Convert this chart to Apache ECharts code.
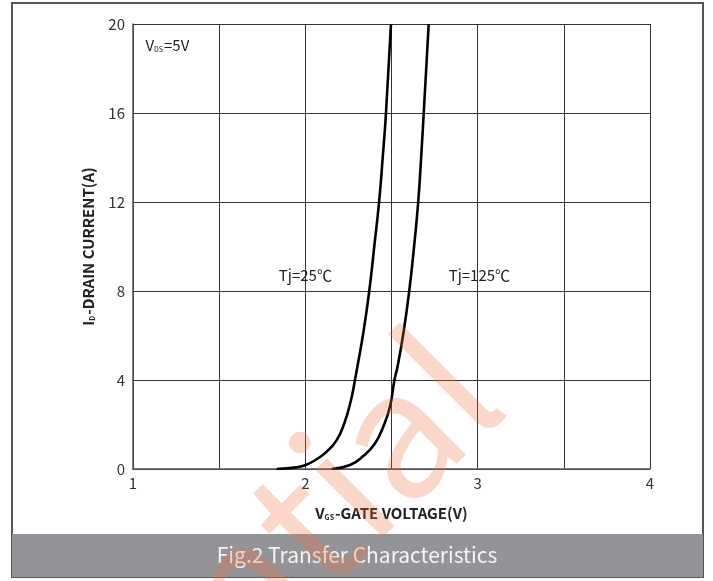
<!DOCTYPE html>
<html>
<head>
<meta charset="utf-8">
<script src="https://cdn.jsdelivr.net/npm/echarts@6/dist/echarts.min.js"></script>
<style>
html,body{margin:0;padding:0;background:#fff;}
#c{width:713px;height:581px;}
</style>
</head>
<body>
<div id="c"></div>
<script>
// Data
const vgs25 = [1.834, 1.950, 2.002, 2.066, 2.124, 2.182, 2.226, 2.265, 2.288, 2.302, 2.336, 2.371, 2.400, 2.428, 2.449, 2.468, 2.497];
const id25  = [0, 0.08, 0.18, 0.44, 0.78, 1.3, 2.05, 3.1, 4, 4.6, 6.1, 8, 10, 12, 14, 16, 20];
const vgs125 = [2.153, 2.259, 2.336, 2.404, 2.452, 2.491, 2.517, 2.535, 2.569, 2.603, 2.631, 2.655, 2.672, 2.687, 2.716];
const id125  = [0, 0.18, 0.58, 1.15, 1.9, 2.8, 4, 4.6, 6.1, 8, 10, 12, 14, 16, 20];
const xTickLabels = ['1', '2', '3', '4'];
const yTickLabels = ['0', '4', '8', '12', '16', '20'];
const seriesNames = ['Tj=25℃', 'Tj=125℃'];
const annotations = [
  {text: 'Tj=25℃', x: 2.0, y: 8.69},
  {text: 'Tj=125℃', x: 3.01, y: 8.69}
];
const condition = {main: 'V', sub: 'DS', rest: '=5V', x: 1.072, y: 19.05};
const titleText = 'Fig.2 Transfer Characteristics';
const watermarkText = 'Confidential';

const FONT = '"Noto Sans CJK SC", "Noto Sans", sans-serif';
const chart = echarts.init(document.getElementById('c'), null, {renderer: 'canvas'});

function pairs(xs, ys) { return xs.map((x, i) => [x, ys[i]]); }

const nameRich = {
  m: {fontFamily: FONT, fontSize: 15, fontWeight: 'bold', color: '#222'},
  s: {fontFamily: FONT, fontSize: 7, fontWeight: 'bold', color: '#222', verticalAlign: 'bottom', padding: [7, 1, 0, 0]}
};

const option = {
  backgroundColor: '#ffffff',
  animation: false,
  textStyle: {fontFamily: FONT},
  grid: {left: 133, right: 63, top: 24, bottom: 112, outerBoundsMode: 'none', containLabel: false},
  xAxis: {
    type: 'value', min: 1, max: 4, interval: 0.5,
    axisLine: {show: true, lineStyle: {color: '#555', width: 1.5}},
    axisTick: {show: false},
    splitLine: {show: true, lineStyle: {color: '#333', width: 1}},
    axisLabel: {
      fontFamily: FONT, fontSize: 15, color: '#333', margin: 7,
      formatter: v => xTickLabels.indexOf(String(v)) >= 0 ? String(v) : ''
    },
    name: '{m|V}{s|GS}{m|-GATE VOLTAGE(V)}',
    nameLocation: 'middle', nameGap: 37,
    nameTextStyle: {rich: nameRich}
  },
  yAxis: {
    type: 'value', min: 0, max: 20, interval: 4,
    axisLine: {show: true, lineStyle: {color: '#555', width: 1.5}},
    axisTick: {show: false},
    splitLine: {show: true, lineStyle: {color: '#333', width: 1}},
    axisLabel: {
      fontFamily: FONT, fontSize: 15, color: '#333', margin: 8,
      formatter: v => yTickLabels.indexOf(String(v)) >= 0 ? String(v) : ''
    },
    name: '{m|I}{s|D}{m|-DRAIN CURRENT(A)}',
    nameLocation: 'middle', nameGap: 37, nameRotate: 90,
    nameTextStyle: {rich: nameRich}
  },
  series: [
    {
      name: seriesNames[0], type: 'line', data: pairs(vgs25, id25),
      smooth: 0.5, showSymbol: false, symbol: 'none',
      lineStyle: {color: '#000', width: 2.6}, z: 5
    },
    {
      name: seriesNames[1], type: 'line', data: pairs(vgs125, id125),
      smooth: 0.5, showSymbol: false, symbol: 'none',
      lineStyle: {color: '#000', width: 2.6}, z: 5
    }
  ]
};
chart.setOption(option);

const graphics = [];
// outer frame
graphics.push({type: 'rect', shape: {x: 12, y: 3, width: 691, height: 574}, style: {fill: null, stroke: '#555', lineWidth: 2}, z: 1, silent: true});
// title bar
graphics.push({type: 'rect', shape: {x: 12, y: 534, width: 691, height: 43}, style: {fill: '#939497'}, z: 2, silent: true});
graphics.push({type: 'text', x: 357, y: 555, style: {text: titleText, fontFamily: FONT, fontSize: 21, fill: '#f4f4f4', textAlign: 'center', textVerticalAlign: 'middle'}, z: 3, silent: true});
// annotations
annotations.forEach(a => {
  const p = chart.convertToPixel({gridIndex: 0}, [a.x, a.y]);
  graphics.push({type: 'text', x: p[0], y: p[1], style: {text: a.text, fontFamily: FONT, fontSize: 15, fill: '#222', textAlign: 'center', textVerticalAlign: 'middle'}, z: 6, silent: true});
});
const cp = chart.convertToPixel({gridIndex: 0}, [condition.x, condition.y]);
graphics.push({
  type: 'text', x: cp[0], y: cp[1],
  style: {
    text: '{m|' + condition.main + '}{s|' + condition.sub + '}{m|' + condition.rest + '}',
    textAlign: 'left', textVerticalAlign: 'middle',
    rich: {
      m: {fontFamily: FONT, fontSize: 15, fill: '#222'},
      s: {fontFamily: FONT, fontSize: 7, fill: '#222', verticalAlign: 'bottom', padding: [7, 1, 0, 0]}
    }
  }, z: 6, silent: true
});
// watermark
graphics.push({
  type: 'text', x: 526, y: 424, rotation: Math.PI / 4,
  style: {text: watermarkText, fontFamily: FONT, fontSize: 176, fill: 'rgba(240,110,60,0.28)', textAlign: 'right', textVerticalAlign: 'bottom'},
  z: 100, silent: true
});
chart.setOption({graphic: {elements: graphics}});
</script>
</body>
</html>
